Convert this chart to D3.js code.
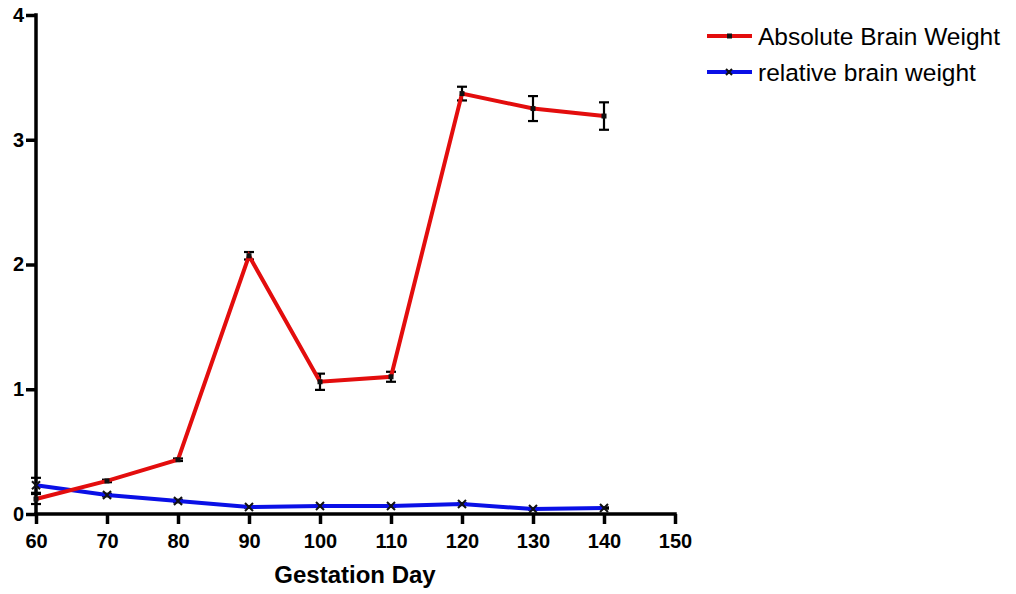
<!DOCTYPE html>
<html>
<head>
<meta charset="utf-8">
<script src="https://cdn.jsdelivr.net/npm/d3@7"></script>
<style>
  html, body { margin: 0; padding: 0; background: #fff; }
  svg { display: block; font-family: "Liberation Sans", Arial, sans-serif; }
</style>
</head>
<body>
<svg id="chart" width="1016" height="594"></svg>
<script>
// Gestation days sampled
const days = [60, 70, 80, 90, 100, 110, 120, 130, 140];
// Absolute brain weight (mean and SEM)
const absoluteWeight = [0.12, 0.265, 0.435, 2.07, 1.06, 1.10, 3.37, 3.25, 3.19];
const absoluteErr    = [0.04, 0.01, 0.01, 0.03, 0.065, 0.04, 0.055, 0.10, 0.11];
// Relative brain weight (mean and SEM)
const relativeWeight = [0.23, 0.152, 0.104, 0.056, 0.064, 0.064, 0.08, 0.04, 0.048];
const relativeErr    = [0.06, 0.01, 0.01, 0.005, 0.005, 0.005, 0.005, 0.005, 0.005];
const xTicks = [60, 70, 80, 90, 100, 110, 120, 130, 140, 150];
const yTicks = [0, 1, 2, 3, 4];
const seriesNames = ["Absolute Brain Weight", "relative brain weight"];

const svg = d3.select("#chart");
const x = d3.scaleLinear().domain([60, 150]).range([36, 675]);
const y = d3.scaleLinear().domain([0, 4]).range([514, 15]);

// Axes
const xAxis = svg.append("g").attr("transform", `translate(0,${y(0)})`)
  .call(d3.axisBottom(x).tickValues(xTicks).tickFormat(d3.format("d"))
    .tickSize(10).tickPadding(10).tickSizeOuter(0));
const yAxis = svg.append("g").attr("transform", `translate(${x(60)},0)`)
  .call(d3.axisLeft(y).tickValues(yTicks).tickFormat(d3.format("d"))
    .tickSize(10).tickPadding(2).tickSizeOuter(0));
[xAxis, yAxis].forEach(g => {
  g.select(".domain").attr("stroke", "#000").attr("stroke-width", 3.5);
  g.selectAll(".tick line").attr("stroke", "#000").attr("stroke-width", 3.5);
  g.selectAll(".tick text").attr("fill", "#000")
    .style("font-family", "'Liberation Sans', Arial, sans-serif")
    .style("font-size", "20px").style("font-weight", "bold");
});
// extend domain ends to cover tick caps
xAxis.select(".domain").attr("d", `M${x(60) - 1.75},0H${x(150) + 1.75}`);
yAxis.select(".domain").attr("d", `M0,${y(4) - 1.75}V${y(0) + 1.75}`);

svg.append("text")
  .attr("x", 355).attr("y", 583)
  .attr("text-anchor", "middle")
  .style("font-size", "24px").style("font-weight", "bold")
  .text("Gestation Day");

const line = d3.line().x(d => x(d[0])).y(d => y(d[1]));

function drawErrors(vals, errs) {
  const g = svg.append("g");
  days.forEach((d, i) => {
    const top = y(vals[i] + errs[i]), bot = y(vals[i] - errs[i]), cx = x(d);
    g.append("line").attr("x1", cx).attr("x2", cx).attr("y1", top).attr("y2", bot)
      .attr("stroke", "#000").attr("stroke-width", 2.2);
    [top, bot].forEach(yy => g.append("line")
      .attr("x1", cx - 5).attr("x2", cx + 5).attr("y1", yy).attr("y2", yy)
      .attr("stroke", "#000").attr("stroke-width", 2.2));
  });
}

// Relative series
drawErrors(relativeWeight, relativeErr);
svg.append("path").datum(days.map((d, i) => [d, relativeWeight[i]]))
  .attr("d", line).attr("fill", "none").attr("stroke", "#0a10e6").attr("stroke-width", 4);
days.forEach((d, i) => {
  const cx = x(d), cy = y(relativeWeight[i]), s = 4;
  svg.append("path").attr("d", `M${cx - s},${cy - s}L${cx + s},${cy + s}M${cx - s},${cy + s}L${cx + s},${cy - s}`)
    .attr("stroke", "#111").attr("stroke-width", 2);
});

// Absolute series
drawErrors(absoluteWeight, absoluteErr);
svg.append("path").datum(days.map((d, i) => [d, absoluteWeight[i]]))
  .attr("d", line).attr("fill", "none").attr("stroke", "#e30d0d").attr("stroke-width", 4);
svg.append("g").selectAll("rect").data(days).join("rect")
  .attr("x", d => x(d) - 2.5).attr("y", (d, i) => y(absoluteWeight[i]) - 2.5)
  .attr("width", 5).attr("height", 5).attr("fill", "#111");

// Legend
const legend = svg.append("g");
const legendY = [36, 72];
const colors = ["#e30d0d", "#0a10e6"];
seriesNames.forEach((name, i) => {
  const ly = legendY[i];
  legend.append("line").attr("x1", 707).attr("x2", 752).attr("y1", ly).attr("y2", ly)
    .attr("stroke", colors[i]).attr("stroke-width", 4);
  if (i === 0) {
    legend.append("rect").attr("x", 727).attr("y", ly - 2.5).attr("width", 5).attr("height", 5).attr("fill", "#111");
  } else {
    legend.append("path").attr("d", `M726,${ly - 3}L732,${ly + 3}M726,${ly + 3}L732,${ly - 3}`)
      .attr("stroke", "#111").attr("stroke-width", 2);
  }
  legend.append("text").attr("x", 758).attr("y", ly + 8.5)
    .style("font-size", "24.5px").text(name);
});
</script>
</body>
</html>
